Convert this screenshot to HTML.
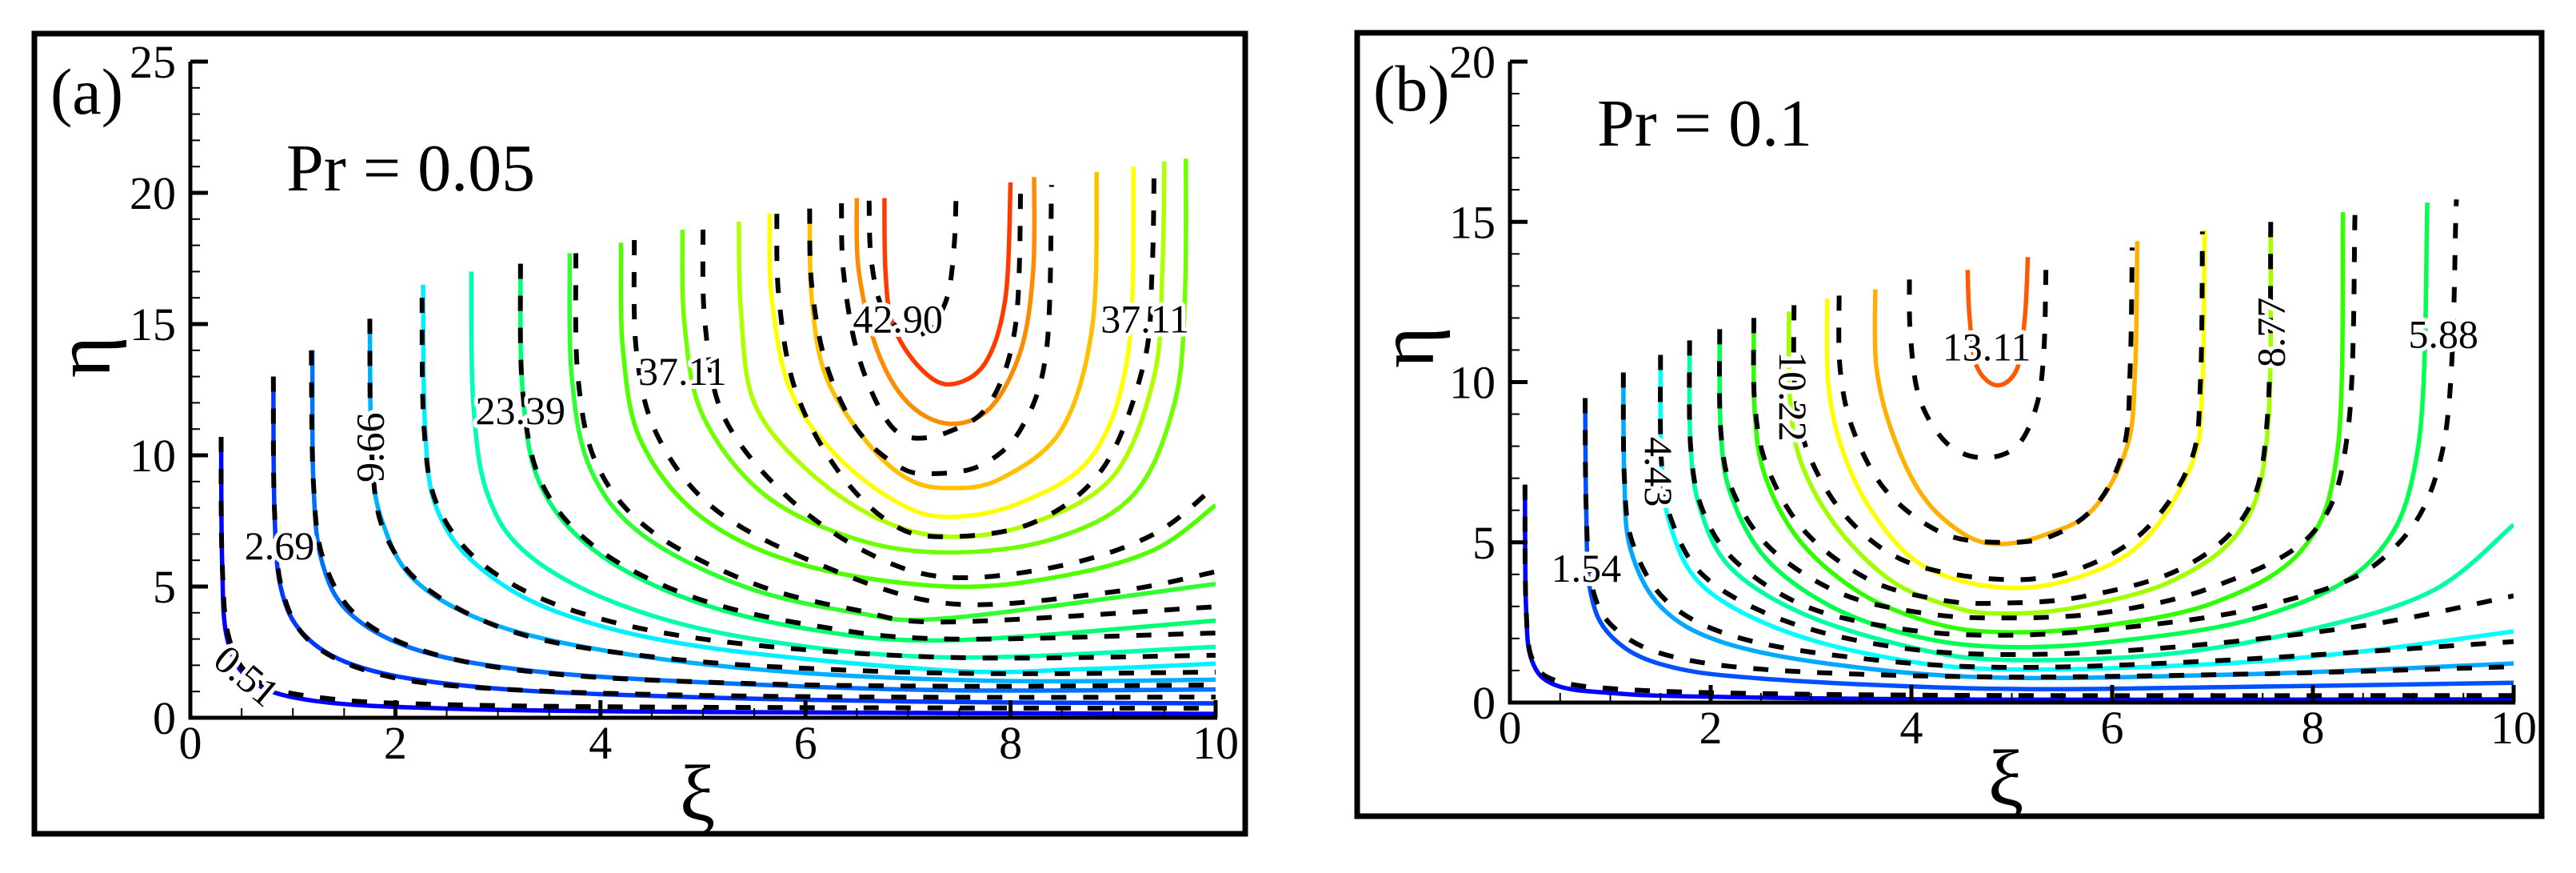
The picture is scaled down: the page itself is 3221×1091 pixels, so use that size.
<!DOCTYPE html>
<html><head><meta charset="utf-8"><style>
html,body{margin:0;padding:0;background:#fff;}
svg{display:block;font-family:"Liberation Serif","Times New Roman",Times,serif;}
text{font-family:"Liberation Serif","Times New Roman",Times,serif;fill:#000;}
.lbl{font-size:50px;stroke:#fff;stroke-width:10px;paint-order:stroke;stroke-linejoin:round;}
</style></head><body>
<svg id="fig" width="3221" height="1091" viewBox="0 0 3221 1091" xmlns="http://www.w3.org/2000/svg" font-family="Liberation Serif, Times New Roman, serif">
<rect x="0" y="0" width="3221" height="1091" fill="#fff"/>
<g id="panelA"></g>
<g id="panelB"></g>
</svg>
<script>
// ---------- Panel (a) data : Pr = 0.05 ----------
const xTicksA = [0,2,4,6,8,10];
const yTicksA = [0,5,10,15,20,25];
const solidColorsA = ["#0000ff","#0038ff","#0070ff","#00b0ff","#00f0ff","#00ffb0","#00ff70","#30ff30","#50ff00","#70ff00","#b0ff00","#ffff00","#ffc000","#ff8c00","#ff3a00"];
const solidA = [
 [[0.3,10.7],[0.31,6],[0.36,3],[0.6,1.4],[1.2,0.65],[2.5,0.35],[5,0.22],[10,0.15]],
 [[0.81,13],[0.82,8],[0.88,5],[1.1,3.2],[1.6,2.0],[2.5,1.3],[4,0.9],[7,0.62],[10,0.55]],
 [[1.19,14],[1.2,9],[1.28,6],[1.55,4],[2.2,2.6],[3.3,1.8],[5,1.35],[7.4,1.05],[10,1.08]],
 [[1.75,15.2],[1.77,10],[1.87,7.5],[2.2,5.2],[3,3.5],[4.3,2.4],[6,1.7],[8,1.4],[10,1.45]],
 [[2.27,16.5],[2.29,11],[2.4,8],[2.8,5.8],[3.6,4],[5,2.7],[7.4,1.8],[8.7,1.85],[10,2.06]],
 [[2.74,17],[2.76,12],[2.9,8.5],[3.3,6.2],[4.2,4.3],[5.5,3.0],[7.4,2.3],[10,2.7]],
 [[3.22,17.3],[3.24,12.5],[3.4,9],[3.9,6.5],[4.8,4.6],[6,3.4],[7.4,2.95],[10,3.7]],
 [[3.7,17.7],[3.72,13],[3.9,9.5],[4.4,7],[5.4,5],[6.5,4.0],[7.4,3.8],[10,5.1]],
 [[4.2,18.1],[4.22,14],[4.4,10.5],[5,7.6],[6,5.8],[7.4,5.0],[8.5,5.4],[9.4,6.4],[10,8.1]],
 [[4.8,18.6],[4.82,15],[5.0,11.5],[5.6,8.5],[6.5,6.8],[7.4,6.3],[8.4,6.8],[9.2,8.5],[9.6,12],[9.7,16],[9.71,21.3]],
 [[5.35,18.9],[5.37,15.5],[5.5,12],[6.0,9.5],[6.7,7.6],[7.4,6.9],[8.2,7.4],[9.0,9.2],[9.4,13],[9.48,17],[9.5,21.2]],
 [[5.65,19.2],[5.67,16],[5.85,12.5],[6.3,10],[6.9,8.2],[7.4,7.65],[8.1,8.2],[8.8,10],[9.15,14],[9.2,21]],
 [[6.04,19.4],[6.06,16],[6.2,13],[6.6,10.5],[7.0,9.1],[7.4,8.75],[7.9,9.1],[8.5,11],[8.8,15],[8.84,20.8]],
 [[6.5,19.8],[6.52,17],[6.7,14],[7.0,12],[7.4,11.2],[7.8,11.8],[8.1,14],[8.22,17],[8.23,20.6]],
 [[6.77,19.8],[6.78,17],[6.85,15],[7.1,13.4],[7.4,12.7],[7.75,13.5],[7.95,16],[8.0,20.4]]
];
const dashedA = [
 [[0.3,10.7],[0.31,6],[0.38,3],[0.65,1.4],[1.3,0.75],[2.5,0.5],[5,0.4],[10,0.36]],
 [[0.81,13],[0.82,8],[0.9,4.8],[1.2,2.8],[1.9,1.6],[3,1.1],[5,0.85],[7.5,0.78],[10,0.79]],
 [[1.18,14],[1.2,9],[1.3,6],[1.65,3.8],[2.4,2.4],[3.6,1.65],[5.5,1.3],[7.5,1.2],[10,1.25]],
 [[1.75,15.2],[1.77,10],[1.9,7],[2.35,4.8],[3.3,3.1],[4.8,2.2],[6.5,1.8],[8,1.68],[10,1.74]],
 [[2.26,16],[2.28,11],[2.42,8],[2.9,5.7],[3.8,4.0],[5.2,2.9],[7.4,2.3],[10,2.38]],
 [[3.22,17.3],[3.24,12.5],[3.42,9],[3.95,6.5],[4.9,4.6],[6.1,3.5],[7.4,3.0],[10,3.23]],
 [[3.76,17.7],[3.78,13],[3.97,9.6],[4.5,7.1],[5.5,5.1],[6.5,4.1],[7.4,3.65],[10,4.23]],
 [[4.33,18.2],[4.35,14],[4.55,10.8],[5.1,8.0],[6.1,5.9],[7.4,4.35],[9,4.8],[10,5.56]],
 [[5.0,18.6],[5.02,15],[5.2,11.5],[5.8,8.5],[6.6,6.3],[7.4,5.35],[8.5,5.8],[9.4,7],[10,8.85]],
 [[5.72,19.2],[5.74,16],[5.9,12.5],[6.3,9.5],[6.8,7.5],[7.3,6.9],[8.2,7.4],[8.9,9.5],[9.3,13.5],[9.38,17],[9.4,21]],
 [[6.04,19.4],[6.06,16.5],[6.2,13.5],[6.5,11],[6.9,9.6],[7.2,9.3],[7.7,9.6],[8.1,11],[8.35,14],[8.4,20.3]],
 [[6.35,19.6],[6.37,17],[6.5,14],[6.75,11.6],[7.0,10.7],[7.4,10.9],[7.8,12],[8.05,15],[8.1,20.6]],
 [[6.62,19.7],[6.64,17.5],[6.75,15.6],[7.0,14.6],[7.2,14.8],[7.38,16],[7.45,18],[7.47,20.2]]
];
const labelTextA = ["0.51","2.69","9.66","23.39","37.11","42.90","37.11"];
const labelPosA = [[0.55,1.6],[0.87,6.56],[1.75,10.3],[3.22,11.7],[4.8,13.2],[6.9,15.2],[9.31,15.2]];
const labelRotA = [40,0,-90,0,0,0,0];

// ---------- Panel (b) data : Pr = 0.1 ----------
const xTicksB = [0,2,4,6,8,10];
const yTicksB = [0,5,10,15,20];
const solidColorsB = ["#0000ff","#0050ff","#00a8ff","#00ffff","#00ffa0","#00ff50","#30ff00","#a0ff00","#ffff00","#ffb000","#ff5a00"];
const solidB = [
 [[0.15,6.8],[0.16,3],[0.22,1.3],[0.45,0.55],[1,0.3],[2,0.18],[4.85,0.09],[10,0.1]],
 [[0.75,9.5],[0.76,6],[0.8,3.5],[1.0,2.1],[1.5,1.2],[2.5,0.75],[4.85,0.43],[7.5,0.5],[10,0.62]],
 [[1.13,10.3],[1.14,7],[1.2,4.8],[1.5,3.0],[2.1,1.9],[3.2,1.2],[4.85,0.78],[7.5,0.9],[10,1.22]],
 [[1.5,10.8],[1.51,7.5],[1.6,5.5],[1.9,3.7],[2.6,2.4],[3.6,1.5],[4.85,1.04],[7,1.2],[8.5,1.6],[10,2.22]],
 [[1.79,11.3],[1.8,8],[1.9,6],[2.2,4.2],[2.9,2.8],[3.9,1.8],[4.85,1.34],[6.5,1.5],[8,2.3],[9.2,3.5],[10,5.55]],
 [[2.09,11.65],[2.1,8.5],[2.2,6.5],[2.55,4.5],[3.2,3.0],[4.0,2.1],[4.85,1.74],[6,1.9],[7.5,2.7],[8.6,4.5],[9.05,8],[9.14,15.6]],
 [[2.43,12],[2.44,9],[2.55,7],[2.9,5],[3.5,3.4],[4.2,2.5],[4.85,2.2],[5.8,2.35],[7,3.1],[7.9,4.8],[8.25,8],[8.3,15.3]],
 [[2.78,12.2],[2.79,9.5],[2.9,7.5],[3.25,5.5],[3.8,3.8],[4.4,3.0],[4.85,2.78],[5.6,2.95],[6.6,3.8],[7.3,5.5],[7.55,8.5],[7.58,15]],
 [[3.16,12.6],[3.17,10],[3.3,8],[3.6,6],[4.1,4.3],[4.85,3.6],[5.6,3.85],[6.3,5],[6.8,7.5],[6.9,10],[6.92,14.75]],
 [[3.64,12.9],[3.65,10.5],[3.8,8.5],[4.1,6.5],[4.5,5.3],[4.85,4.95],[5.3,5.2],[5.8,6],[6.15,8],[6.23,10.5],[6.25,14.4]],
 [[4.56,13.5],[4.58,12],[4.65,10.5],[4.85,9.9],[5.05,10.4],[5.13,12],[5.16,13.9]]
];
const dashedB = [
 [[0.15,6.8],[0.16,3],[0.23,1.3],[0.5,0.65],[1.2,0.4],[2.5,0.28],[5,0.22],[10,0.22]],
 [[0.75,9.5],[0.76,6],[0.82,3.6],[1.05,2.3],[1.6,1.45],[2.7,1.0],[4.85,0.8],[7.5,0.9],[10,1.12]],
 [[1.13,10.3],[1.14,7],[1.22,5],[1.55,3.2],[2.2,2.1],[3.3,1.45],[4.85,1.1],[7,1.3],[10,1.9]],
 [[1.5,10.85],[1.51,7.5],[1.62,5.6],[1.95,3.9],[2.7,2.6],[3.7,1.8],[4.85,1.5],[6.5,1.7],[8.5,2.4],[10,3.33]],
 [[1.79,11.3],[1.8,8],[1.92,6],[2.25,4.4],[2.95,3.0],[3.9,2.3],[4.85,2.1],[6,2.3],[7.5,3.0],[8.7,4.5],[9.3,8],[9.43,15.7]],
 [[2.09,11.65],[2.1,8.5],[2.22,6.6],[2.6,4.8],[3.3,3.4],[4.1,2.8],[4.85,2.64],[5.9,2.8],[7,3.6],[8,5.3],[8.35,8.5],[8.42,15.3]],
 [[2.43,12],[2.44,9.3],[2.57,7.3],[2.95,5.3],[3.6,3.8],[4.3,3.2],[4.85,3.1],[5.7,3.3],[6.7,4.2],[7.35,6],[7.55,9],[7.58,15]],
 [[2.83,12.4],[2.84,9.8],[2.97,7.8],[3.35,5.8],[3.95,4.4],[4.85,3.85],[5.6,4.1],[6.3,5.3],[6.78,7.5],[6.88,10],[6.9,14.7]],
 [[3.28,12.7],[3.29,10.4],[3.42,8.5],[3.75,6.6],[4.3,5.3],[4.85,5.0],[5.4,5.2],[5.85,6.2],[6.12,8],[6.18,10.5],[6.2,14.2]],
 [[3.98,13.2],[3.99,11.5],[4.08,9.5],[4.35,8.1],[4.7,7.64],[5.05,8.0],[5.25,9.3],[5.32,11],[5.34,13.5]]
];
const labelTextB = ["1.54","4.43","10.22","13.11","8.77","5.88"];
const labelPosB = [[0.76,4.2],[1.48,7.2],[2.82,9.55],[4.75,11.1],[7.58,11.55],[9.3,11.5]];
const labelRotB = [0,90,90,0,-90,0];

const NS = "http://www.w3.org/2000/svg";
const FONT = "Liberation Serif, Times New Roman, serif";
function mk(tag, attrs, parent){
  const e = document.createElementNS(NS, tag);
  for (const k in attrs) e.setAttribute(k, attrs[k]);
  if (tag === "text") e.setAttribute("font-family", FONT);
  parent.appendChild(e);
  return e;
}
function smoothPath(pts, sx, sy){
  const p = pts.map(q => [sx(q[0]), sy(q[1])]);
  let d = "M" + p[0][0].toFixed(1) + "," + p[0][1].toFixed(1);
  for (let i = 0; i < p.length - 1; i++){
    const p0 = p[i-1] || p[i], p1 = p[i], p2 = p[i+1], p3 = p[i+2] || p[i+1];
    const c1 = [p1[0] + (p2[0]-p0[0])/6, p1[1] + (p2[1]-p0[1])/6];
    const c2 = [p2[0] - (p3[0]-p1[0])/6, p2[1] - (p3[1]-p1[1])/6];
    d += " C" + c1[0].toFixed(1) + "," + c1[1].toFixed(1) + " " + c2[0].toFixed(1) + "," + c2[1].toFixed(1) + " " + p2[0].toFixed(1) + "," + p2[1].toFixed(1);
  }
  return d;
}

function drawPanel(cfg){
  const g = document.getElementById(cfg.id);
  const sx = v => cfg.x0 + (v - 0) / 10 * (cfg.x1 - cfg.x0);
  const sy = v => cfg.y0 - v / cfg.ymax * (cfg.y0 - cfg.y1);
  const fr = mk("rect", {x:cfg.fx, y:cfg.fy, width:cfg.fw, height:cfg.fh, fill:"none", stroke:"#000", "stroke-width":7}, g);
  
  
  const cp = mk("clipPath", {id:cfg.id+"clip"}, g);
  mk("rect", {x:cfg.x0, y:cfg.y1-20, width:cfg.x1-cfg.x0, height:cfg.y0-cfg.y1+20}, cp);
  const lines = mk("g", {"clip-path":"url(#"+cfg.id+"clip)"}, g);
  
  
  cfg.solid.forEach((pts, i) => {
    const pa = mk("path", {d:smoothPath(pts, sx, sy), fill:"none", stroke:cfg.colors[i], "stroke-width":5.5, "stroke-linejoin":"round"}, lines);
    
    
  });
  cfg.dashed.forEach((pts, i) => {
    const pa = mk("path", {d:smoothPath(pts, sx, sy), fill:"none", stroke:"#000", "stroke-width":6, "stroke-dasharray":"19 21"}, lines);
    
    
  });
  const ax = mk("g", {}, g);
  
  
  mk("line", {x1:cfg.x0, y1:cfg.y1, x2:cfg.x0, y2:cfg.y0+2, stroke:"#000", "stroke-width":5}, ax);
  mk("line", {x1:cfg.x0-2, y1:cfg.y0, x2:cfg.x1+2, y2:cfg.y0, stroke:"#000", "stroke-width":5}, ax);
  for (let v = 0; v <= 10.001; v += 0.5){
    const major = Math.abs(v - Math.round(v/2)*2) < 1e-6;
    mk("line", {x1:sx(v), y1:cfg.y0, x2:sx(v), y2:cfg.y0 - (major?22:12), stroke:"#000", "stroke-width":major?5:2}, ax);
  }
  for (let v = 0; v <= cfg.ymax + 0.001; v += 1){
    const major = v % 5 === 0;
    mk("line", {x1:cfg.x0, y1:sy(v), x2:cfg.x0 + (major?22:12), y2:sy(v), stroke:"#000", "stroke-width":major?5:2}, ax);
  }
  cfg.xTicks.forEach(v => {
    const t = mk("text", {x:sx(v), y:cfg.y0+51, "font-size":58, "text-anchor":"middle"}, ax);
    t.textContent = String(v);
    
    
  });
  cfg.yTicks.forEach(v => {
    const t = mk("text", {x:cfg.x0-18, y:sy(v)+20, "font-size":58, "text-anchor":"end"}, ax);
    t.textContent = String(v);
    
    
  });
  cfg.labels.forEach((s, i) => {
    const px = sx(cfg.labelPos[i][0]), py = sy(cfg.labelPos[i][1]);
    const t = mk("text", {x:px, y:py+17, class:"lbl", "text-anchor":"middle", transform:"rotate("+cfg.labelRot[i]+" "+px+" "+py+")"}, g);
    t.textContent = s;
    
    
  });
  const xt = mk("text", {x:cfg.xiX, y:cfg.xiY, "font-size":100, "text-anchor":"middle"}, g);
  xt.textContent = "ξ";
  
  
  const yt = mk("text", {x:cfg.etaX, y:cfg.etaY+25, "font-size":100, "text-anchor":"middle", transform:"rotate(-90 "+cfg.etaX+" "+cfg.etaY+")"}, g);
  yt.textContent = "η";
  
  
  const pl = mk("text", {x:cfg.tagX, y:cfg.tagY, "font-size":82}, g);
  pl.textContent = cfg.tag;
  
  
  const pr = mk("text", {x:cfg.prX, y:cfg.prY, "font-size":84}, g);
  pr.textContent = cfg.pr;
  
  
}

drawPanel({id:"panelA", fx:43, fy:42, fw:1514, fh:1000, x0:238, x1:1520, y0:897, y1:77, ymax:25,
  xTicks:xTicksA, yTicks:yTicksA, solid:solidA, dashed:dashedA, colors:solidColorsA,
  labels:labelTextA, labelPos:labelPosA, labelRot:labelRotA,
  xiX:872, xiY:1025, etaX:112, etaY:446, tag:"(a)", tagX:63, tagY:142, pr:"Pr = 0.05", prX:358, prY:238});
drawPanel({id:"panelB", fx:1697, fy:41, fw:1481, fh:979, x0:1888, x1:3143, y0:878, y1:77, ymax:20,
  xTicks:xTicksB, yTicks:yTicksB, solid:solidB, dashed:dashedB, colors:solidColorsB,
  labels:labelTextB, labelPos:labelPosB, labelRot:labelRotB,
  xiX:2508, xiY:1006, etaX:1767, etaY:434, tag:"(b)", tagX:1717, tagY:138, pr:"Pr = 0.1", prX:1997, prY:182});
</script>
</body></html>
